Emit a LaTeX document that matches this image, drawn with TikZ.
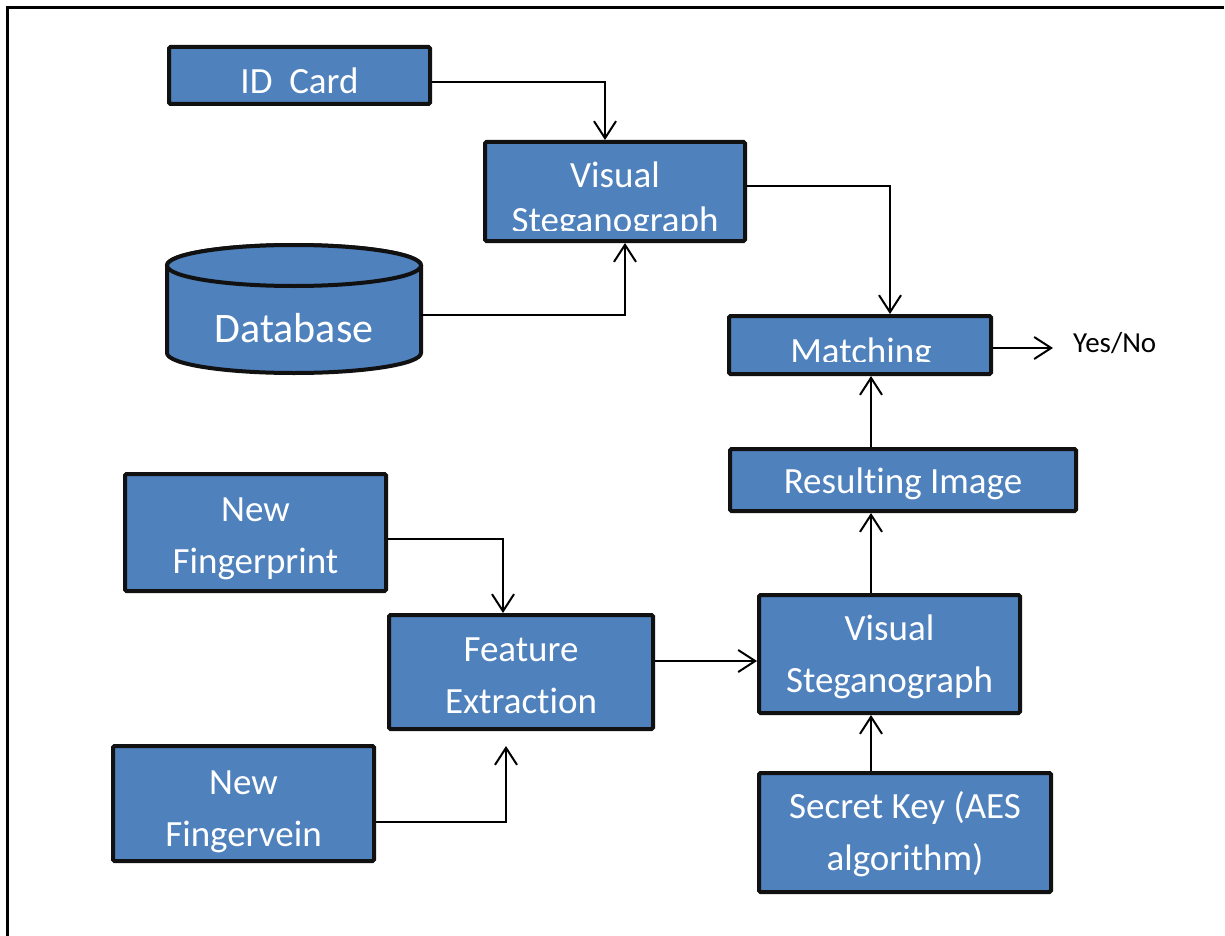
\documentclass[tikz,border=0pt]{standalone}
\usepackage{fontspec}
\setmainfont{Carlito}[Ligatures={NoCommon}]
\usetikzlibrary{arrows.meta}
\definecolor{boxblue}{HTML}{4F81BD}
\definecolor{boxline}{HTML}{111111}
\tikzset{
  box/.style={draw=boxline, line width=4pt, fill=boxblue, rounded corners=1.5pt,
    text=white, font=\fontsize{37}{52}\selectfont, align=center, inner sep=0pt},
  boxtext/.style={text=white, font=\fontsize{37}{52}\selectfont, inner sep=0pt},
  arr/.style={line width=2pt, -{Straight Barb[length=17pt,width=22pt]}},
  cyl/.style={draw=boxline, line width=4pt, fill=boxblue},
}
\begin{document}
\begin{tikzpicture}[x=1pt,y=-1pt]
\useasboundingbox (0,0) rectangle (1225,936);
% page frame
\draw[line width=3pt] (7.5,936) -- (7.5,8) -- (1224,8);

% boxes
\node[box, minimum width=261, minimum height=57, text height=37pt, text depth=0pt] (id) at (299.5,75.5) {ID\ \ Card};
\node[box, minimum width=260, minimum height=99] (vs1) at (615,191.5) {};
\begin{scope}
  \clip (480,140) rectangle (750,230);
  \node[boxtext, anchor=base] (vs1a) at (615,187) {Visual};
  \node[boxtext, anchor=base] (vs1b) at (615,232) {Steganograph};
\end{scope}
\node[box, minimum width=262, minimum height=58] (match) at (860,345) {};
\begin{scope}
  \clip (725,314) rectangle (995,361);
  \node[boxtext, anchor=base] (matcht) at (861,363) {Matching};
\end{scope}
\node[box, minimum width=346, minimum height=62, text height=34pt, text depth=8pt] (res) at (903,480) {Resulting Image};
\node[box, minimum width=261, minimum height=117, text height=89pt, text depth=8pt] (fp) at (255.5,532.5) {New\\Fingerprint};
\node[box, minimum width=264, minimum height=114, text height=90pt, text depth=8pt] (fe) at (521,672) {Feature\\Extraction};
\node[box, minimum width=261, minimum height=118, text height=84pt, text depth=8pt] (vs2) at (889.5,654) {Visual\\Steganograph};
\node[box, minimum width=261, minimum height=115, text height=93pt, text depth=8pt] (fv) at (243.5,803.5) {New\\Fingervein};
\node[box, minimum width=292, minimum height=119, text height=83pt, text depth=8pt] (sk) at (905,832.5) {Secret Key (AES\\algorithm)};

% database cylinder
\filldraw[cyl] (167,265.5) -- (167,353)
  arc[start angle=180, end angle=360, x radius=127pt, y radius=20pt]
  -- (421,265.5)
  arc[start angle=0, end angle=180, x radius=127pt, y radius=20.5pt] -- cycle;
\filldraw[cyl] (294,265.5) ellipse[x radius=127pt, y radius=20.5pt];
\node[minimum width=254, minimum height=100, inner sep=0pt, text=white,
  font=\fontsize{42}{50}\selectfont, text height=55pt, text depth=0pt] (db) at (294,315) {Database};

% output label
\node[anchor=base west, inner sep=0pt, font=\fontsize{29}{35}\selectfont] (yn) at (1073,352) {Yes/No};

% helper coordinates
\coordinate (x1) at (605,0);
\coordinate (x2) at (890,0);
\coordinate (x3) at (625,0);
\coordinate (x4) at (871,0);
\coordinate (x5) at (503,0);
\coordinate (fvend) at (506,746);
\coordinate (ynend) at (1053,348);
\coordinate (feout) at (655,661);

% connectors
\draw[arr] ([yshift=-6.5pt]id.east) -| (x1 |- vs1.north);
\draw[arr] ([yshift=5.5pt]vs1.east) -| (x2 |- match.north);
\draw[arr] (db.east) -| (x3 |- vs1.south);
\draw[arr] (match.east |- ynend) -- (ynend);
\draw[arr] (x4 |- res.north) -- (x4 |- match.south);
\draw[arr] (x4 |- vs2.north) -- (x4 |- res.south);
\draw[arr] (x4 |- sk.north) -- (x4 |- vs2.south);
\draw[arr] (fe.east |- feout) -- (vs2.west |- feout);
\draw[arr] ([yshift=-6.5pt]fp.east) -| (x5 |- fe.north);
\draw[arr] ([yshift=-18.5pt]fv.east) -| (fvend);
\end{tikzpicture}
\end{document}
